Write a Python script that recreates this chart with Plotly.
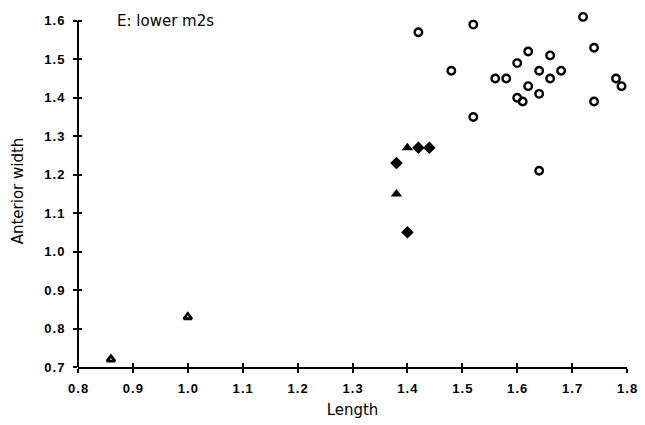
import plotly.graph_objects as go

# open circles
open_x = [1.42, 1.52, 1.48, 1.52, 1.56, 1.58, 1.60, 1.62, 1.62, 1.60, 1.61,
          1.64, 1.64, 1.66, 1.66, 1.68, 1.64, 1.72, 1.74, 1.74, 1.78, 1.79]
open_y = [1.57, 1.59, 1.47, 1.35, 1.45, 1.45, 1.49, 1.52, 1.43, 1.40, 1.39,
          1.47, 1.41, 1.51, 1.45, 1.47, 1.21, 1.61, 1.53, 1.39, 1.45, 1.43]

# filled diamonds
dia_x = [1.38, 1.42, 1.44, 1.40]
dia_y = [1.23, 1.27, 1.27, 1.05]

# filled triangles
tri_x = [1.40, 1.38]
tri_y = [1.27, 1.15]

# open triangles
otri_x = [0.86, 1.00]
otri_y = [0.72, 0.83]

x_ticks = [0.8, 0.9, 1.0, 1.1, 1.2, 1.3, 1.4, 1.5, 1.6, 1.7, 1.8]
y_ticks = [0.7, 0.8, 0.9, 1.0, 1.1, 1.2, 1.3, 1.4, 1.5, 1.6]


def spaced(v):
    # scanned labels have loose letter spacing
    return "\u200a".join(f"{v:.1f}")


fig = go.Figure()
fig.add_trace(go.Scatter(x=open_x, y=open_y, mode="markers", cliponaxis=False,
                         marker=dict(symbol="circle-open", size=7.5, color="black",
                                     line=dict(width=2.4, color="black"))))
fig.add_trace(go.Scatter(x=dia_x, y=dia_y, mode="markers", cliponaxis=False,
                         marker=dict(symbol="diamond", size=8, color="black",
                                     line=dict(width=1.5, color="black"))))
fig.add_trace(go.Scatter(x=tri_x, y=tri_y, mode="markers", cliponaxis=False,
                         marker=dict(symbol="triangle-up", size=10, color="black")))
fig.add_trace(go.Scatter(x=otri_x, y=otri_y, mode="markers", cliponaxis=False,
                         marker=dict(symbol="triangle-up-open", size=7, color="black",
                                     line=dict(width=2.8, color="black"))))

tickfont = dict(family="Liberation Sans, Arial", size=13, color="black", weight="bold")
titlefont = dict(family="DejaVu Sans", size=15, color="black")
yr = [0.7, 1.615]

# page body has an 8px margin, so the figure is shrunk by that much
fig.update_layout(
    width=637, height=417,
    margin=dict(l=70, r=18, t=5, b=58),
    paper_bgcolor="white", plot_bgcolor="white",
    showlegend=False,
    xaxis=dict(range=[0.8, 1.8], tickvals=x_ticks,
               ticktext=[spaced(v) for v in x_ticks],
               showgrid=False, zeroline=False, showline=True,
               linecolor="black", linewidth=2, ticks="outside",
               ticklen=4, tickwidth=1.5, tickcolor="black", tickfont=tickfont,
               ticklabelstandoff=4,
               title=dict(text="Length", font=titlefont, standoff=10)),
    yaxis=dict(range=yr, tickvals=y_ticks,
               ticktext=[spaced(v) for v in y_ticks],
               showgrid=False, zeroline=False, showline=False,
               ticks="outside", ticklen=4, tickwidth=1.5, tickcolor="black",
               tickfont=tickfont, ticklabelstandoff=6,
               title=dict(text="Anterior width", font=titlefont, standoff=16)),
    xaxis2=dict(range=[0.8, 1.8], tickvals=x_ticks, overlaying="x",
                showticklabels=False, showgrid=False, zeroline=False,
                ticks="inside", ticklen=4, tickwidth=1.5, tickcolor="black"),
    yaxis2=dict(range=yr, tickvals=y_ticks, overlaying="y",
                showticklabels=False, showgrid=False, zeroline=False,
                ticks="inside", ticklen=4, tickwidth=1.5, tickcolor="black"),
)
# dummy trace so the inside-tick axes are drawn
fig.add_trace(go.Scatter(x=[None], y=[None], xaxis="x2", yaxis="y2",
                         hoverinfo="skip"))
# y axis line stops at the top tick
fig.add_shape(type="line", xref="paper", yref="y", x0=0, x1=0,
              y0=y_ticks[0], y1=y_ticks[-1],
              line=dict(color="black", width=2))
fig.add_annotation(text="E: lower m2s", xref="paper", yref="y",
                   x=0.068, y=y_ticks[-1], xanchor="left", yanchor="middle",
                   showarrow=False, font=titlefont)

fig.write_html("out.html")
